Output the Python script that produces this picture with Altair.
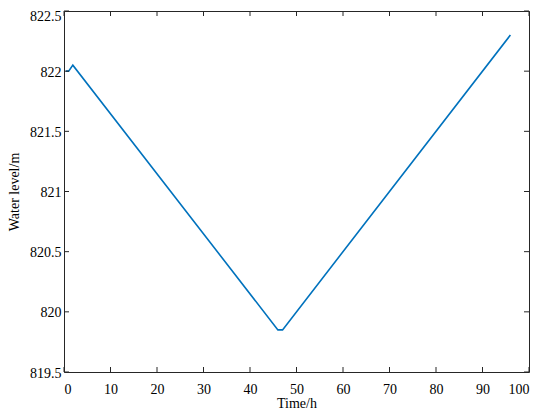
import altair as alt
import pandas as pd

# data
time_h = [0.4, 1.0, 1.9, 46.0, 47.0, 96.0]
water_level = [822.00, 822.00, 822.05, 819.85, 819.85, 822.30]

x_ticks = [0, 10, 20, 30, 40, 50, 60, 70, 80, 90, 100]
y_ticks = [819.5, 820.0, 820.5, 821.0, 821.5, 822.0, 822.5]

W, H = 465, 361
FONT = "Liberation Serif"
AX = "#262626"

df = pd.DataFrame({"t": time_h, "lvl": water_level})
xt = pd.DataFrame({"v": x_ticks})
yt = pd.DataFrame({"v": y_ticks})

xs = alt.Scale(domain=[0, 100], nice=False)
ys = alt.Scale(domain=[819.5, 822.5], nice=False)

common = dict(tickSize=0, grid=False, domain=True, domainColor=AX, domainWidth=1,
              labelFont=FONT, labelFontSize=14, labelColor="#000",
              titleFont=FONT, titleFontSize=14, titleFontWeight="normal", titleColor="#000")

line = alt.Chart(df).mark_line(color="#0072BD", strokeWidth=1.6).encode(
    x=alt.X("t:Q", scale=xs, title="Time/h",
            axis=alt.Axis(values=x_ticks, labelPadding=10, titlePadding=0, **common)),
    y=alt.Y("lvl:Q", scale=ys, title="Water level/m",
            axis=alt.Axis(values=y_ticks, format=".4~f", labelPadding=3, titlePadding=8,
                          labelOffset={"condition": {"test": "datum.value >= 822.4", "value": 5},
                                       "value": 1},
                          **common)),
)

frame = alt.Chart(df).mark_point(opacity=0).encode(
    x=alt.X("t:Q", scale=xs, title=None,
            axis=alt.Axis(orient="top", labels=False, ticks=False, grid=False,
                          domainColor=AX, domainWidth=1)),
    y=alt.Y("lvl:Q", scale=ys, title=None,
            axis=alt.Axis(orient="right", labels=False, ticks=False, grid=False,
                          domainColor=AX, domainWidth=1)),
)

tick_style = dict(color=AX, strokeWidth=1)
bx = alt.Chart(xt).mark_rule(**tick_style).encode(
    x=alt.X("v:Q", scale=xs, axis=None), y=alt.value(H), y2=alt.value(H - 5))
tx = alt.Chart(xt).mark_rule(**tick_style).encode(
    x=alt.X("v:Q", scale=xs, axis=None), y=alt.value(0), y2=alt.value(5))
ly = alt.Chart(yt).mark_rule(**tick_style).encode(
    y=alt.Y("v:Q", scale=ys, axis=None), x=alt.value(0), x2=alt.value(5))
ry = alt.Chart(yt).mark_rule(**tick_style).encode(
    y=alt.Y("v:Q", scale=ys, axis=None), x=alt.value(W), x2=alt.value(W - 5))

chart = alt.layer(line, frame, bx, tx, ly, ry).resolve_axis(
    x="independent", y="independent"
).properties(
    width=W, height=H,
    autosize=alt.AutoSizeParams(type="none"),
    padding={"left": 56, "top": 3, "right": 10, "bottom": 40},
).configure_view(stroke=None).configure(background="white", font=FONT)

chart.save("out.html", embed_options={"renderer": "svg", "actions": False})
